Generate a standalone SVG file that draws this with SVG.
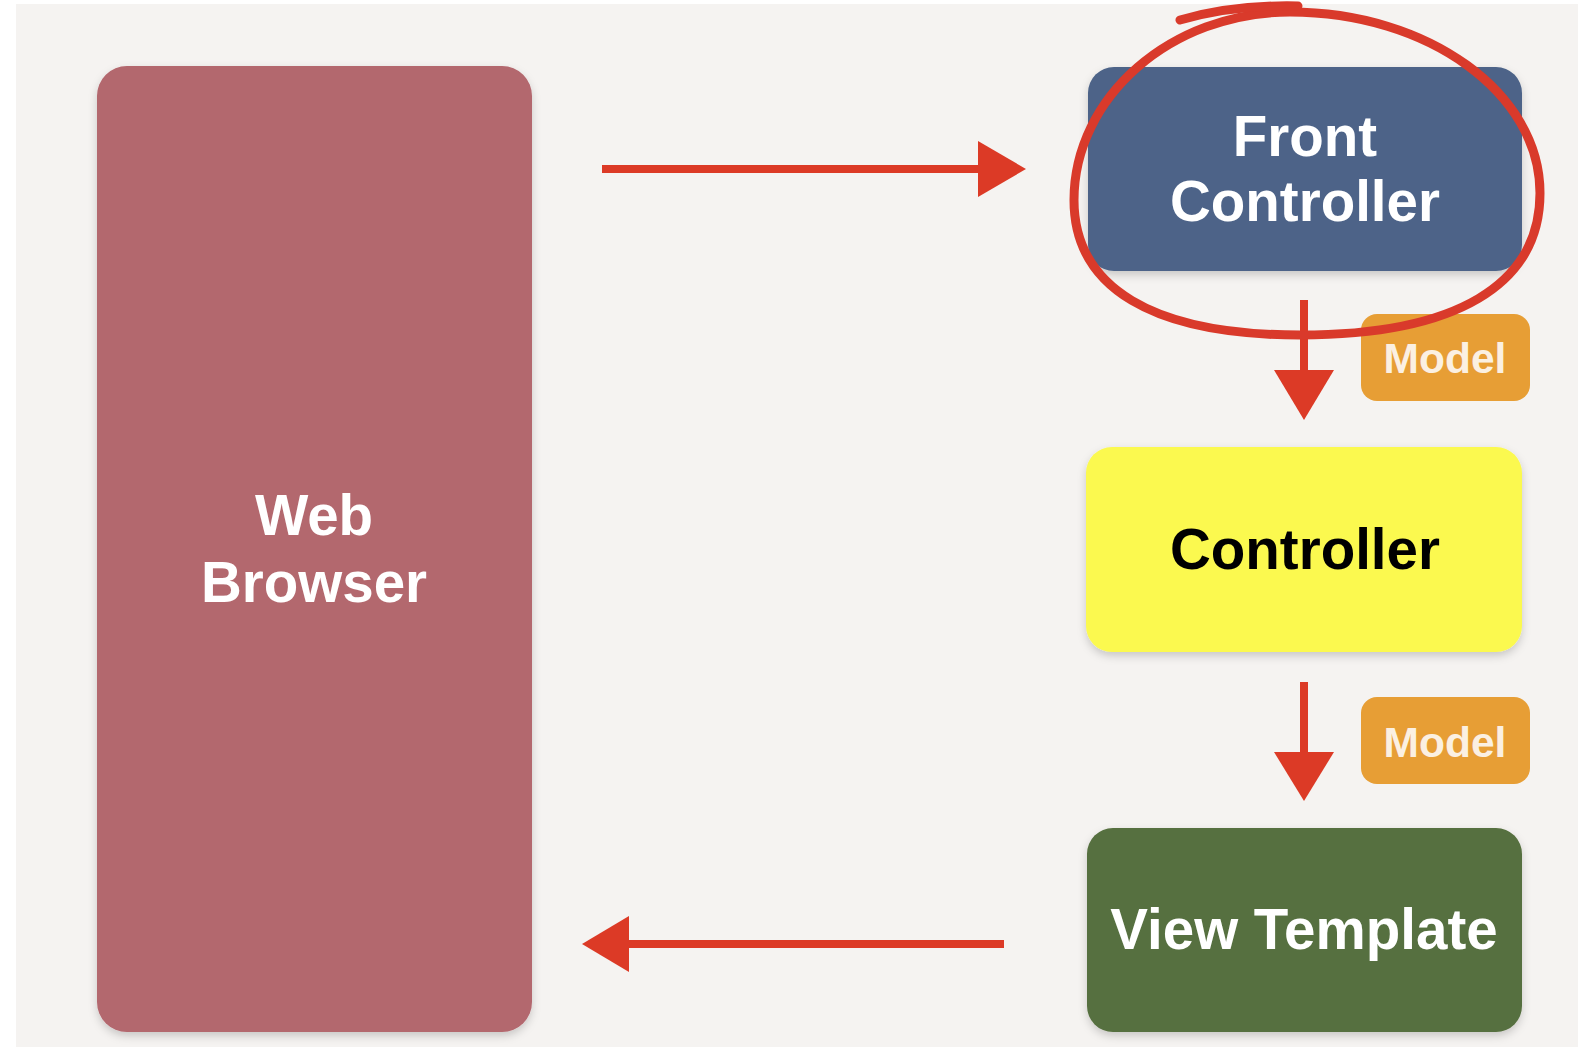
<svg xmlns="http://www.w3.org/2000/svg" width="1578" height="1050" viewBox="0 0 1578 1050">
<defs>
<style>
.lbl{font-family:"Liberation Sans",Arial,sans-serif;font-weight:bold;text-anchor:middle}
.big{font-size:56.5px}
.small{font-size:42.5px;fill:#fbf0e2}
.arrow{stroke:#dc3a26;stroke-width:8;fill:none;stroke-linecap:butt}
.head{fill:#dc3a26}
.ring{fill:none;stroke:#d93a2b;stroke-width:9;stroke-linecap:round}
</style>
<filter id="sh" x="-10%" y="-10%" width="120%" height="120%">
<feDropShadow dx="0" dy="4" stdDeviation="4" flood-color="#000" flood-opacity="0.18"/>
</filter>
</defs>
<rect x="0" y="0" width="1578" height="1050" fill="#ffffff"/>
<rect x="16" y="4" width="1562" height="1043" fill="#f5f3f1"/>

<g id="web-browser">
<rect x="97" y="66" width="435" height="966" rx="30" fill="#b3676e" filter="url(#sh)"/>
<text class="lbl big" x="314" y="535" fill="#ffffff">Web</text>
<text class="lbl big" x="314" y="602" fill="#ffffff">Browser</text>
</g>

<g id="front-controller">
<rect x="1088" y="67" width="434" height="204" rx="26" fill="#4d6488" filter="url(#sh)"/>
<text class="lbl big" x="1305" y="156" fill="#ffffff">Front</text>
<text class="lbl big" x="1305" y="221" fill="#ffffff">Controller</text>
</g>

<g id="controller">
<rect x="1086" y="447" width="436" height="205" rx="26" fill="#fbf94f" filter="url(#sh)"/>
<text class="lbl big" x="1305" y="569" fill="#000000">Controller</text>
</g>

<g id="view-template">
<rect x="1087" y="828" width="435" height="204" rx="26" fill="#566f3f" filter="url(#sh)"/>
<text class="lbl big" x="1304" y="949" fill="#ffffff">View Template</text>
</g>

<g id="model-1">
<rect x="1361" y="314" width="169" height="87" rx="16" fill="#e79e35"/>
<text class="lbl small" x="1445" y="373">Model</text>
</g>

<g id="model-2">
<rect x="1361" y="697" width="169" height="87" rx="16" fill="#e79e35"/>
<text class="lbl small" x="1445" y="757">Model</text>
</g>

<g id="connectors">
<line class="arrow" x1="602" y1="169" x2="980" y2="169"/>
<polygon class="head" points="978,141 1026,169 978,197"/>
<line class="arrow" x1="1304" y1="300" x2="1304" y2="373"/>
<polygon class="head" points="1274,370 1334,370 1304,420"/>
<line class="arrow" x1="1304" y1="682" x2="1304" y2="755"/>
<polygon class="head" points="1274,752 1334,752 1304,801"/>
<line class="arrow" x1="1004" y1="944" x2="625" y2="944"/>
<polygon class="head" points="629,916 582,944 629,972"/>
</g>

<g id="highlight">
<path class="ring" d="M1290,12 C1428,12 1540,93 1540,193 C1540,285 1456,335 1300,335 C1153,335 1074,288 1074,200 C1074,97 1171,12 1290,12 Z"/>
<path class="ring" d="M1180,20 C1215,10 1255,5 1298,6"/>
</g>
</svg>
